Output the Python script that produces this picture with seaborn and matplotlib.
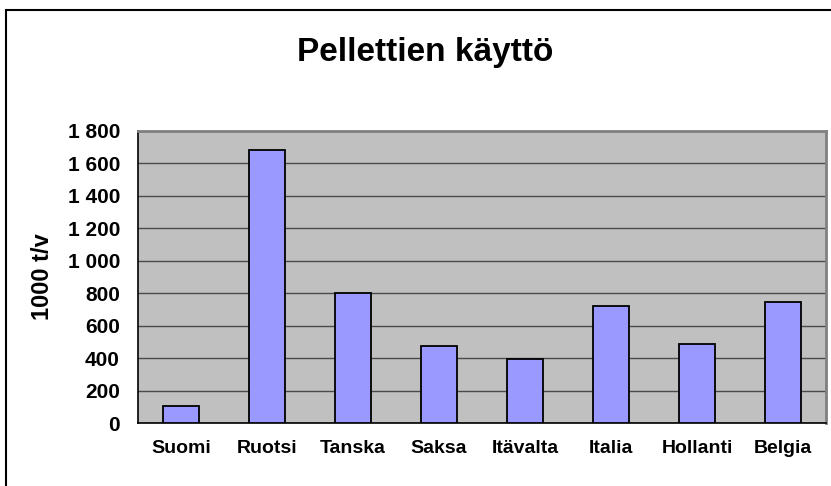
import matplotlib
matplotlib.use("Agg")
import matplotlib.pyplot as plt
import matplotlib.ticker as mticker
from matplotlib.patches import Rectangle
import seaborn as sns
import pandas as pd

# Values (1000 t per year)
countries = ['Suomi', 'Ruotsi', 'Tanska', 'Saksa', 'Itävalta', 'Italia', 'Hollanti', 'Belgia']
usage = [105, 1680, 800, 475, 395, 720, 490, 745]
y_ticks = [0, 200, 400, 600, 800, 1000, 1200, 1400, 1600, 1800]

df = pd.DataFrame({'Maa': countries, 'Kaytto': usage})

sns.set_style("white")
plt.rcParams['font.family'] = ['Liberation Sans', 'DejaVu Sans']
plt.rcParams['text.color'] = 'black'
plt.rcParams['axes.labelcolor'] = 'black'
plt.rcParams['xtick.labelcolor'] = 'black'
plt.rcParams['ytick.labelcolor'] = 'black'

fig = plt.figure(figsize=(8.31, 4.86), dpi=100)
ax = fig.add_axes([138 / 831, 1 - 423 / 486, (826 - 138) / 831, (423 - 131) / 486])
ax.set_facecolor('#C0C0C0')

sns.barplot(data=df, x='Maa', y='Kaytto', color='#9999FF', edgecolor='black',
            linewidth=1.3, width=0.42, saturation=1, ax=ax, zorder=3)

ax.set_ylim(0, 1800)
ax.set_xlim(-0.5, len(countries) - 0.5)
ax.set_yticks(y_ticks)
ax.yaxis.set_major_formatter(mticker.FuncFormatter(lambda v, p: f'{int(v):,}'.replace(',', ' ')))
ax.grid(axis='y', color='#4a4a4a', linewidth=1.0, zorder=1)
ax.set_axisbelow(True)

# category boundary ticks on the x axis
ax.set_xticks([i + 0.5 for i in range(len(countries))], minor=True)
ax.tick_params(axis='x', which='major', length=0, pad=12, labelsize=14, labelcolor='black')
ax.tick_params(axis='x', which='minor', length=5, width=1, color='#333333', direction='out')
ax.tick_params(axis='y', length=6, width=1, color='#333333', direction='out', pad=7,
               labelsize=15, labelcolor='black')
for lab in ax.get_xticklabels() + ax.get_yticklabels():
    lab.set_fontweight('bold')

ax.set_xlabel('')
ax.set_ylabel('1000 t/v', fontsize=17, fontweight='bold', color='black', labelpad=10)

for side in ['left', 'bottom']:
    ax.spines[side].set_color('black')
    ax.spines[side].set_linewidth(1.2)
for side in ['top', 'right']:
    ax.spines[side].set_visible(True)
    ax.spines[side].set_color('#808080')
    ax.spines[side].set_linewidth(2)

fig.text(425 / 831, 1 - 52 / 486, 'Pellettien käyttö', ha='center', va='center',
         fontsize=24, fontweight='bold', color='black')

# outer chart frame
fig.patches.append(Rectangle((6 / 831, -0.05), 1.0, 1 - 10 / 486 + 0.05,
                             transform=fig.transFigure, fill=False,
                             edgecolor='black', linewidth=1.5))

fig.savefig('out.png', dpi=100)
